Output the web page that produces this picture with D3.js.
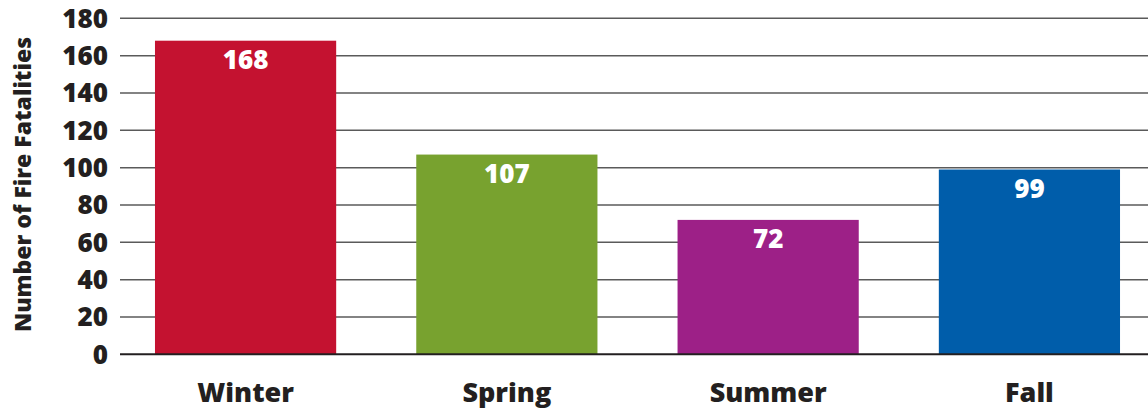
<!DOCTYPE html>
<html lang="en">
<head>
    <meta charset="UTF-8">
    <title>Fire Fatalities by Season</title>
    <script src="https://d3js.org/d3.v7.min.js"></script>
    <style>
        html, body {
            margin: 0;
            padding: 0;
            background: #fff;
        }
        svg text {
            font-family: "Open Sans", sans-serif;
            font-weight: 800;
            fill: #231f20;
        }
    </style>
</head>
<body>
    <div id="chart"></div>

    <script>
        // data
        var seasons = ["Winter", "Spring", "Summer", "Fall"];
        var fatalities = [168, 107, 72, 99];
        var barColors = ["#c41230", "#78a22f", "#9d2087", "#005daa"];
        var yTicks = [0, 20, 40, 60, 80, 100, 120, 140, 160, 180];
        var yTitle = "Number of Fire Fatalities";

        var width = 1148, height = 411;

        var svg = d3.select("#chart")
            .append("svg")
            .attr("width", width)
            .attr("height", height);

        var y = d3.scaleLinear()
            .domain([0, 180])
            .range([354.3, 18.3]);

        var x = d3.scaleBand()
            .domain(seasons)
            .range([115, 1160])
            .paddingInner(0.3065)
            .paddingOuter(0.153);

        // gridlines
        svg.append("g")
            .selectAll("line")
            .data(yTicks.filter(d => d > 0))
            .enter().append("line")
            .attr("x1", 120)
            .attr("x2", width)
            .attr("y1", d => y(d))
            .attr("y2", d => y(d))
            .style("stroke", "#5a5a5a")
            .style("stroke-width", 1.5);

        // tick labels
        svg.append("g")
            .selectAll("text")
            .data(yTicks)
            .enter().append("text")
            .attr("x", 108)
            .attr("y", d => y(d))
            .attr("dy", "0.36em")
            .attr("text-anchor", "end")
            .style("font-size", "26px")
            .text(d => d);

        // bars
        svg.append("g")
            .selectAll("rect")
            .data(seasons)
            .enter().append("rect")
            .attr("x", d => x(d))
            .attr("width", x.bandwidth())
            .attr("y", (d, i) => y(fatalities[i]))
            .attr("height", (d, i) => y(0) - y(fatalities[i]))
            .style("fill", (d, i) => barColors[i]);

        // value labels inside bars
        svg.append("g")
            .selectAll("text")
            .data(seasons)
            .enter().append("text")
            .attr("x", d => x(d) + x.bandwidth() / 2)
            .attr("y", (d, i) => y(fatalities[i]) + 28)
            .attr("text-anchor", "middle")
            .style("font-size", "26px")
            .style("fill", "#fff")
            .text((d, i) => fatalities[i]);

        // baseline
        svg.append("line")
            .attr("x1", 120)
            .attr("x2", width)
            .attr("y1", y(0))
            .attr("y2", y(0))
            .style("stroke", "#231f20")
            .style("stroke-width", 2);

        // category labels
        svg.append("g")
            .selectAll("text")
            .data(seasons)
            .enter().append("text")
            .attr("x", d => x(d) + x.bandwidth() / 2)
            .attr("y", 402)
            .attr("text-anchor", "middle")
            .style("font-size", "27px")
            .text(d => d);

        // y axis title
        svg.append("text")
            .attr("transform", "translate(31, 184.5) rotate(-90)")
            .attr("text-anchor", "middle")
            .style("font-size", "23px")
            .text(yTitle);
    </script>
</body>
</html>
